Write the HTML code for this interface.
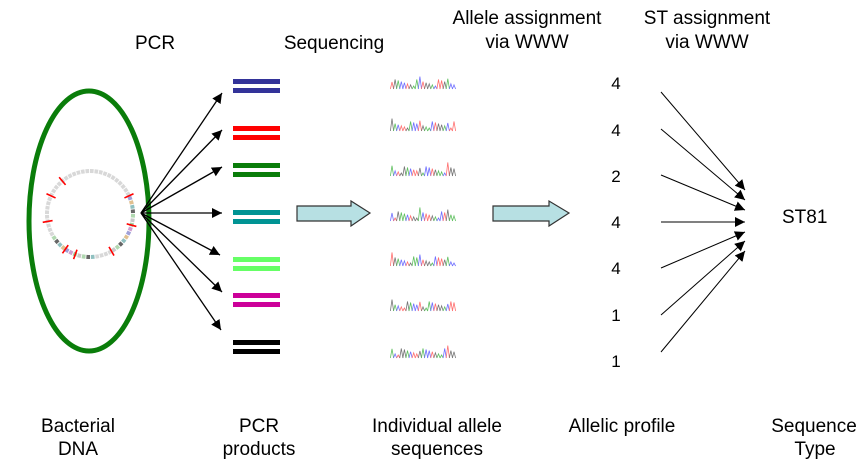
<!DOCTYPE html>
<html><head><meta charset="utf-8"><style>
html,body{margin:0;padding:0;background:#fff}
svg{display:block}
text{font-family:"Liberation Sans",Arial,sans-serif;fill:#000}
</style></head><body>
<svg width="864" height="469" viewBox="0 0 864 469">
<defs>
<marker id="ah" viewBox="0 0 10 10" refX="10" refY="5" markerWidth="10" markerHeight="10" markerUnits="userSpaceOnUse" orient="auto"><path d="M0,0 L10,5 L0,10 z" fill="#000"/></marker>
<marker id="ah2" viewBox="0 0 10 10" refX="10" refY="5" markerWidth="10" markerHeight="10" markerUnits="userSpaceOnUse" orient="auto"><path d="M0,0 L10,5 L0,10 z" fill="#000"/></marker>
</defs>
<g font-size="19">
<text x="155" y="49" text-anchor="middle">PCR</text>
<text x="334" y="49" text-anchor="middle">Sequencing</text>
<text x="527" y="24" text-anchor="middle">Allele assignment</text>
<text x="527" y="48" text-anchor="middle">via WWW</text>
<text x="707" y="24" text-anchor="middle">ST assignment</text>
<text x="707" y="48" text-anchor="middle">via WWW</text>
</g>
<g font-size="19" text-anchor="middle">
<text x="78" y="432">Bacterial</text>
<text x="78" y="455">DNA</text>
<text x="259" y="432">PCR</text>
<text x="259" y="455">products</text>
<text x="437" y="432">Individual allele</text>
<text x="437" y="455">sequences</text>
<text x="622" y="432">Allelic profile</text>
<text x="814" y="432">Sequence</text>
<text x="815" y="455">Type</text>
</g>
<ellipse cx="89" cy="221" rx="60" ry="130" fill="none" stroke="#0a7d0a" stroke-width="5"/>
<g id="genome"></g>
<g id="pcrarrows"></g>
<g id="bars"></g>
<g id="chroms"></g>
<path d="M297,206 L351,206 L351,201 L370,213 L351,226 L351,221 L297,221 Z" fill="#b7e0e3" stroke="#333" stroke-width="1.2"/>
<path d="M493,206 L549,206 L549,201 L569,213 L549,226 L549,221 L493,221 Z" fill="#b7e0e3" stroke="#333" stroke-width="1.2"/>
<g id="profile" font-size="17"></g>
<g id="starrows"></g>
<text x="782" y="223" font-size="19">ST81</text>
</svg>
<script>
const ns="http://www.w3.org/2000/svg";
function mk(t,a,p){const e=document.createElementNS(ns,t);for(const k in a)e.setAttribute(k,a[k]);p.appendChild(e);return e;}
const barColors=["#333399","#ff0000","#0a7d0a","#009494","#66ff66","#cc0099","#000000"];
const barY=[79,126,163,210,257,293,340];
const tips=[[222,93],[222,130],[222,167],[222,213],[220,255],[222,292],[221,330]];
const alleles=["4","4","2","4","4","1","1"];
const alleleY=[89,136,182,228,274,321,367];
const stStart=[[661,92],[661,129],[661,175],[661,222],[661,268],[661,315],[661,352]];
const stTip=[[745,190],[745,200],[745,210],[745,222],[745,232],[745,241],[745,251]];
const chromY=[89,131,176,221,266,311,358];

const g=document.getElementById('genome');
const cx=90,cy=214,r=43;
const segCols=["#c8c8c8","#9fd0a0","#d0a0d0","#a0a0d8","#e0c090","#90c0c0","#666","#b0d8b0"];
for(let i=0;i<60;i++){
  const a0=i/60*2*Math.PI-Math.PI/2,a1=(i+0.8)/60*2*Math.PI-Math.PI/2;
  const col=(i>10&&i<25)||(i>28&&i<40)?segCols[i%8]:"#d8d8d8";
  const p=mk('path',{d:`M${cx+r*Math.cos(a0)},${cy+r*Math.sin(a0)} A${r},${r} 0 0 1 ${cx+r*Math.cos(a1)},${cy+r*Math.sin(a1)}`,stroke:col,'stroke-width':4,fill:'none'},g);
  
  
}
[-40,65,105,150,200,215,260,295].forEach(d=>{
  const a=d*Math.PI/180-Math.PI/2;
  const l=mk('line',{x1:cx+(r-5)*Math.cos(a),y1:cy+(r-5)*Math.sin(a),x2:cx+(r+5)*Math.cos(a),y2:cy+(r+5)*Math.sin(a),stroke:'#ff0000','stroke-width':1.6},g);
  
  
});
const pa=document.getElementById('pcrarrows');
tips.forEach(t=>{
  const l=mk('line',{x1:141,y1:213,x2:t[0],y2:t[1],stroke:'#000','stroke-width':1.3,'marker-end':'url(#ah)'},pa);
  
  
});
const bg=document.getElementById('bars');
barY.forEach((y,i)=>{
  [0,9].forEach(o=>{
    const b=mk('rect',{x:233,y:y+o,width:47,height:5,fill:barColors[i]},bg);
    
    
  });
});
const cg=document.getElementById('chroms');
const tc=["#ff7070","#7070ff","#60c060","#777"];
chromY.forEach((y,k)=>{
  for(let j=0;j<21;j++){
    const x=392+j*3.1;
    const c=(j*7+k*3+(j>>2))%4;
    const h=3+((j*13+k*5)%7)*1.1+(j%9==0?4:0);
    const p=mk('path',{d:`M${x-1.6},${y} L${x},${y-h} L${x+1.6},${y}`,stroke:tc[c],'stroke-width':0.8,fill:'none'},cg);
    
    
  }
});
const pg=document.getElementById('profile');
alleles.forEach((v,i)=>{
  const t=mk('text',{x:616,y:alleleY[i],'text-anchor':'middle'},pg);
  t.textContent=v;
  
  
});
const sg=document.getElementById('starrows');
stStart.forEach((s,i)=>{
  const l=mk('line',{x1:s[0],y1:s[1],x2:stTip[i][0],y2:stTip[i][1],stroke:'#000','stroke-width':1,'marker-end':'url(#ah2)'},sg);
  
  
});
</script>
</body></html>
